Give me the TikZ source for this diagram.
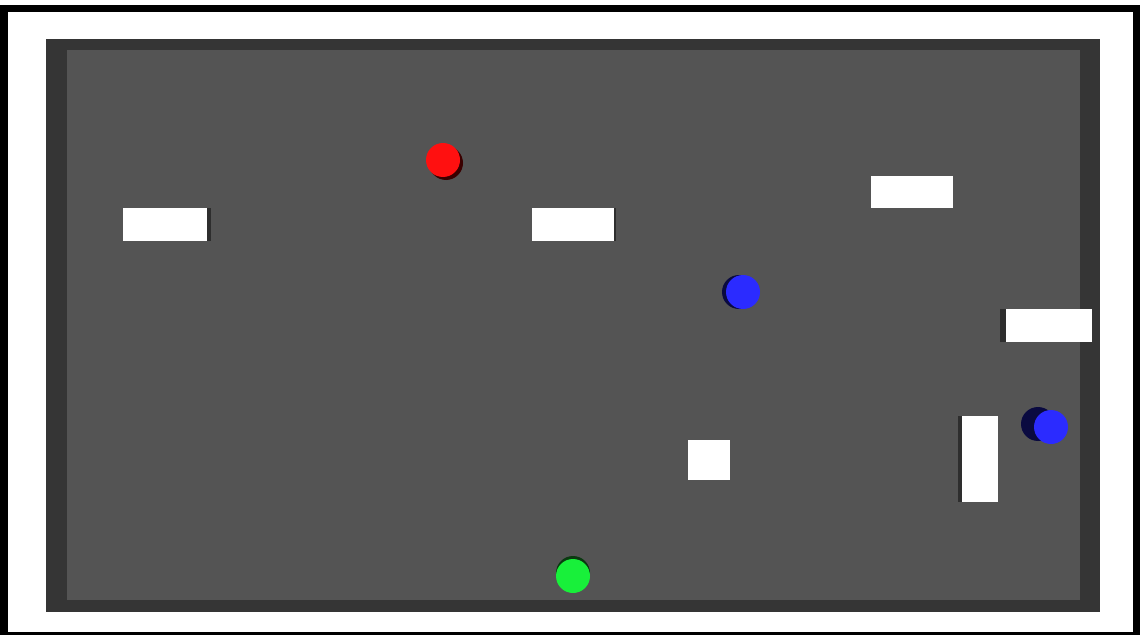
\documentclass[tikz,border=0pt]{standalone}
\definecolor{floorc}{HTML}{545454}
\definecolor{wallc}{HTML}{353535}
\definecolor{shadowc}{HTML}{2E2E2E}
\definecolor{redball}{HTML}{FF1010}
\definecolor{redsh}{HTML}{3A0000}
\definecolor{blueball}{HTML}{2B2BFF}
\definecolor{bluesh}{HTML}{0A0A40}
\definecolor{greenball}{HTML}{18F03A}
\definecolor{greensh}{HTML}{0A3A10}
\tikzset{
  block/.style={fill=white,draw=none},
  blockshadow/.style={fill=shadowc,draw=none},
  ball/.style={circle,draw=none,minimum size=25.5pt,inner sep=0pt}
}
\begin{document}
\begin{tikzpicture}[x=0.75pt,y=-0.75pt]
\useasboundingbox (0,0) rectangle (1143,635);
\fill[white] (0,0) rectangle (1143,635);
% outer frame
\fill[black] (0,5) rectangle (1140,635);
\fill[white] (8,12) rectangle (1133,632);
% arena walls and floor
\fill[wallc] (46,39) rectangle (1100,612);
\fill[floorc] (67,50) rectangle (1080,600);
% blocks with shadows
\fill[blockshadow] (206,208) rectangle (211,241);
\fill[block] (123,208) rectangle (207,241);
\fill[blockshadow] (613,208) rectangle (616,241);
\fill[block] (532,208) rectangle (614,241);
\fill[block] (871,176) rectangle (953,208);
\fill[blockshadow] (1000,309) rectangle (1007,342);
\fill[block] (1006,309) rectangle (1092,342);
\fill[blockshadow] (958,416) rectangle (963,502);
\fill[block] (962,416) rectangle (998,502);
\fill[block] (688,440) rectangle (730,480);
% balls with shadows
\node[ball,fill=redsh] (redS) at (446,163) {};
\node[ball,fill=redball] (red) at (443,160) {};
\node[ball,fill=bluesh] (blue1S) at (739,292) {};
\node[ball,fill=blueball] (blue1) at (743,292) {};
\node[ball,fill=bluesh] (blue2S) at (1038,424) {};
\node[ball,fill=blueball] (blue2) at (1051,427) {};
\node[ball,fill=greensh] (greenS) at (573,573) {};
\node[ball,fill=greenball] (green) at (573,576) {};
\end{tikzpicture}
\end{document}
